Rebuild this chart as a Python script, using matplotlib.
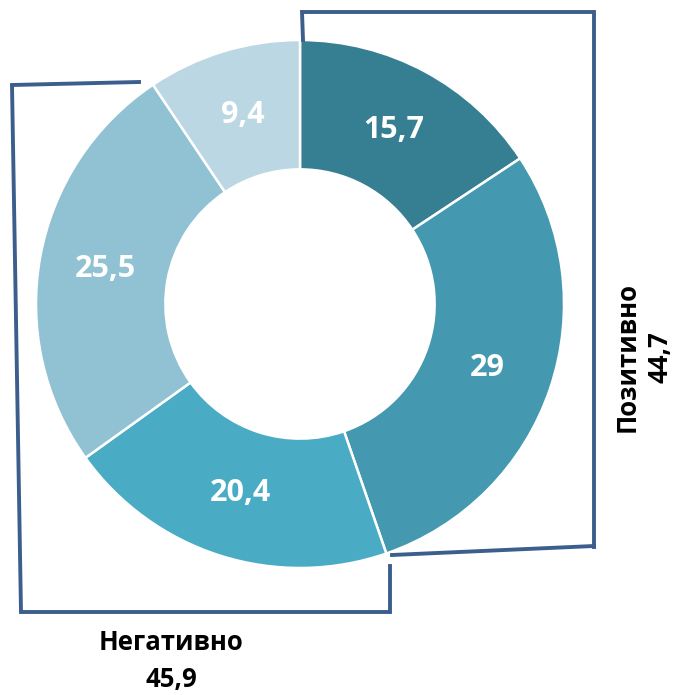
import matplotlib.pyplot as plt
from matplotlib.lines import Line2D

# data
values = [15.7, 29, 20.4, 25.5, 9.4]
labels = ['15,7', '29', '20,4', '25,5', '9,4']
colors = ['#367f93', '#4499b0', '#4aabc5', '#90c2d3', '#bbd7e3']
pos_label, pos_value = 'Позитивно', '44,7'
neg_label, neg_value = 'Негативно', '45,9'

W, H = 679, 695
fig = plt.figure(figsize=(W / 100, H / 100), dpi=100)
plt.rcParams['font.family'] = ['Open Sans', 'DejaVu Sans']

# donut axes: center (300,304) px, radius 264 px
cx, cy, r = 300, 304, 264
ax = fig.add_axes([(cx - r) / W, (H - cy - r) / H, 2 * r / W, 2 * r / H])
wedges, texts = ax.pie(values, colors=colors, startangle=90, counterclock=False,
                       radius=1, labels=labels, labeldistance=0.75,
                       wedgeprops=dict(width=0.49, edgecolor='white', linewidth=1.8),
                       textprops=dict(color='white', fontsize=22, fontweight='bold',
                                      ha='center', va='center'))
ax.set_xlim(-1, 1)
ax.set_ylim(-1, 1)
ax.set_aspect('auto')
ax.axis('off')

# brackets (pixel coordinates)
def px_line(xs, ys):
    fig.add_artist(Line2D([x / W for x in xs], [1 - y / H for y in ys],
                          transform=fig.transFigure, color='#3b5e8c', lw=2.8,
                          solid_joinstyle='miter'))

px_line([303, 302, 594, 594], [40, 12, 12, 547])
px_line([594, 392], [546, 555])
px_line([139, 12, 21, 390, 390], [82, 85, 612, 612, 566])

fig.text(171 / W, 1 - 643 / H, neg_label, ha='center', va='center',
         fontsize=18.5, fontweight='bold')
fig.text(171 / W, 1 - 680 / H, neg_value, ha='center', va='center',
         fontsize=18.5, fontweight='bold')
fig.text(627 / W, 1 - 357 / H, pos_label, ha='center', va='center',
         fontsize=18.5, fontweight='bold', rotation=90)
fig.text(660 / W, 1 - 357 / H, pos_value, ha='center', va='center',
         fontsize=18.5, fontweight='bold', rotation=90)

fig.savefig('out.png', dpi=100)
